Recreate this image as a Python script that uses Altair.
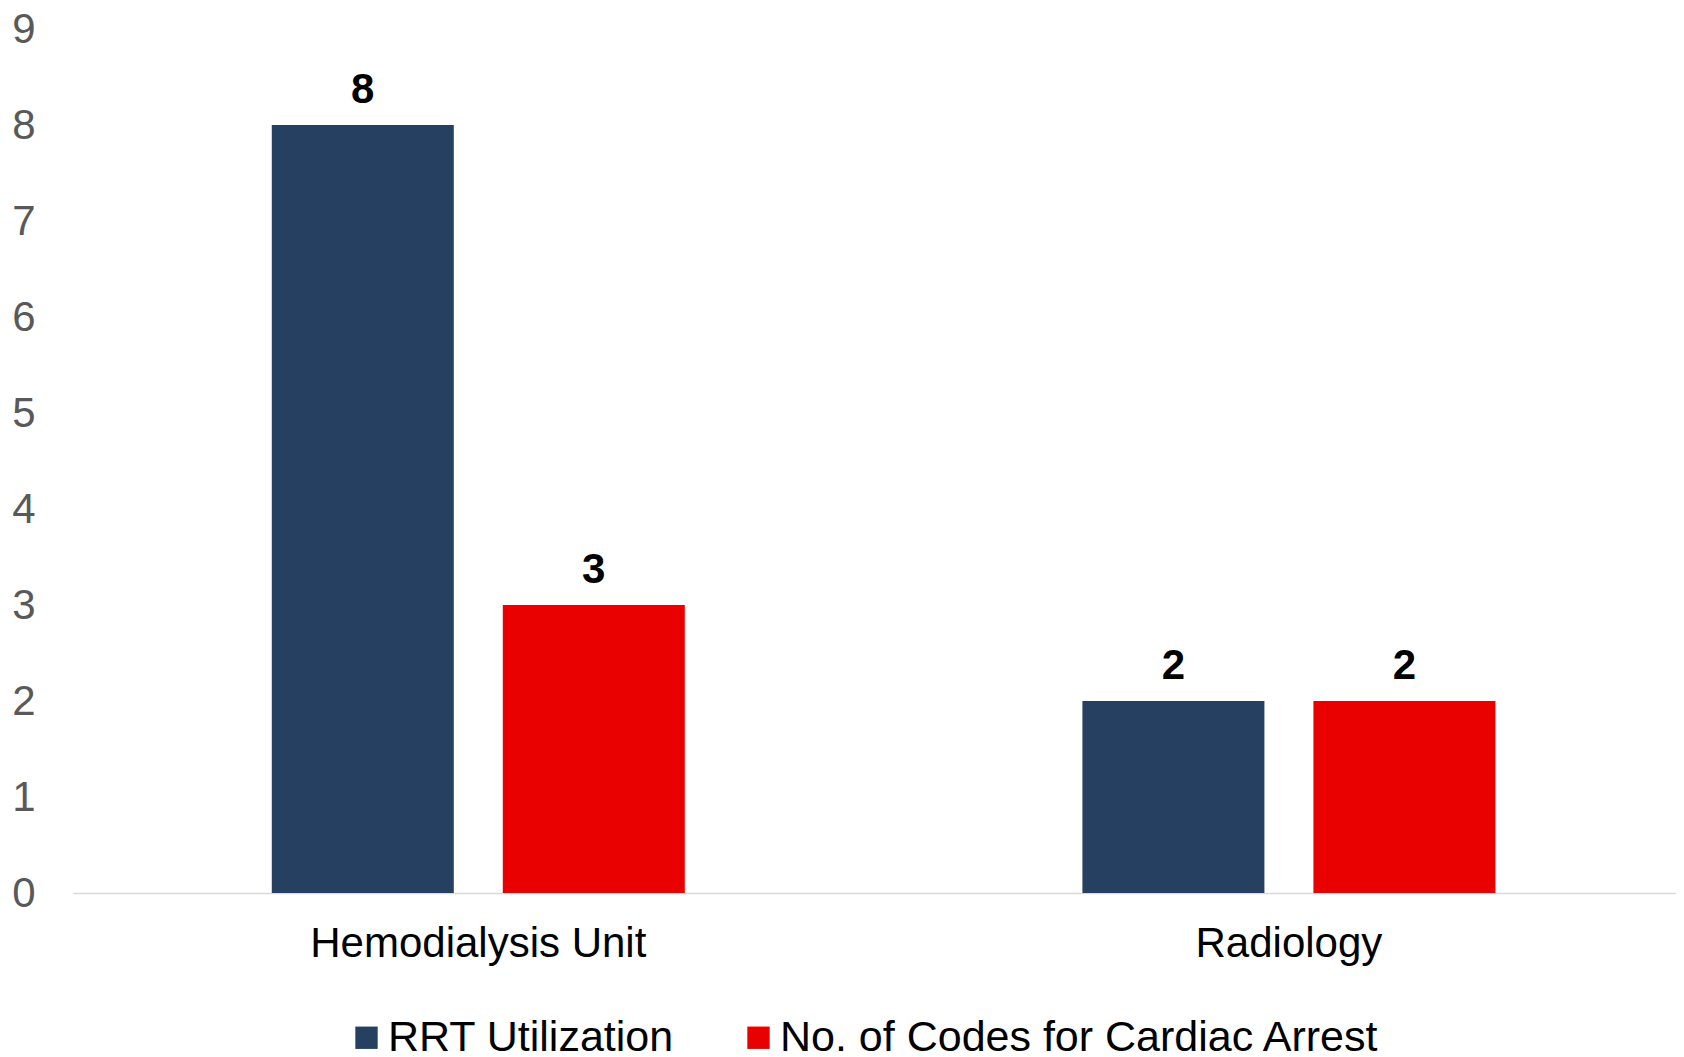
import altair as alt
import pandas as pd

units = ["Hemodialysis Unit", "Radiology"]
series = ["RRT Utilization", "No. of Codes for Cardiac Arrest"]
rrt_values = [8, 2]
code_values = [3, 2]
colors = ["#264061", "#E90000"]
y_ticks = [0, 1, 2, 3, 4, 5, 6, 7, 8, 9]

rows = []
for i, u in enumerate(units):
    rows.append({"unit": u, "series": series[0], "value": rrt_values[i]})
    rows.append({"unit": u, "series": series[1], "value": code_values[i]})
df = pd.DataFrame(rows)

FONT = "Liberation Sans"

x = alt.X(
    "unit:N",
    sort=units,
    title=None,
    scale=alt.Scale(paddingInner=0.4905, paddingOuter=0.234, align=0.524),
    axis=alt.Axis(
        labelAngle=0,
        labelFont=FONT,
        labelFontSize=42,
        labelColor="#000000",
        labelPadding=30,
        labelBaseline="top",
        labelLimit=1000,
        ticks=False,
        tickSize=0,
        domain=True,
        domainColor="#D9D9D9",
        domainWidth=1.5,
        grid=False,
    ),
)
xo = alt.XOffset("series:N", sort=series, scale=alt.Scale(paddingInner=0.2121, paddingOuter=0))
y = alt.Y(
    "value:Q",
    title=None,
    scale=alt.Scale(domain=[0, 9], nice=False),
    axis=alt.Axis(
        values=y_ticks,
        labelFont=FONT,
        labelFontSize=42,
        labelColor="#595959",
        labelPadding=38,
        ticks=False,
        tickSize=0,
        domain=False,
        grid=False,
    ),
)
color = alt.Color(
    "series:N",
    sort=series,
    scale=alt.Scale(domain=series, range=colors),
    legend=alt.Legend(
        orient="none",
        legendX=272,
        legendY=987,
        direction="horizontal",
        title=None,
        symbolType="square",
        symbolSize=500,
        symbolStrokeWidth=0,
        labelFont=FONT,
        labelFontSize=43,
        labelColor="#000000",
        labelLimit=1000,
        labelOffset=0,
        columnPadding=63,
        padding=0,
    ),
)

bars = alt.Chart(df).mark_bar().encode(x=x, xOffset=xo, y=y, color=color)
labels = alt.Chart(df).mark_text(
    font=FONT, fontSize=42, fontWeight="bold", baseline="alphabetic", dy=-22, color="#000000"
).encode(x=x, xOffset=xo, y=y, text="value:Q")

chart = (
    alt.layer(bars, labels)
    .properties(
        width=1603,
        height=864,
        padding={"left": 65, "top": 21, "right": 0, "bottom": 166},
        autosize=alt.AutoSizeParams(type="none"),
        background="white",
    )
    .configure_view(stroke=None)
)

chart.save("out.html", embed_options={"renderer": "svg", "actions": False})
